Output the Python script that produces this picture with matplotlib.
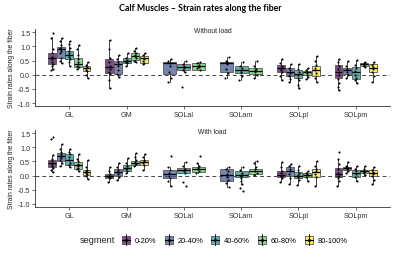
import numpy as np
import matplotlib
matplotlib.use("Agg")
import matplotlib.pyplot as plt
from matplotlib.patches import Rectangle, Patch
from matplotlib.lines import Line2D
from matplotlib.legend_handler import HandlerBase
from matplotlib.colors import to_rgba

plt.rcParams['font.family'] = ['Liberation Sans', 'DejaVu Sans']

muscles = ['GL', 'GM', 'SOLal', 'SOLam', 'SOLpl', 'SOLpm']
segments = ['0-20%', '20-40%', '40-60%', '60-80%', '80-100%']
colors = ['#440154', '#3B528B', '#21908C', '#5DC863', '#FDE725']

# box stats per segment: (low whisker, q1, median, q3, high whisker), None = no data
noload_stats = {
    'GL':    [(0.20, 0.38, 0.58, 0.76, 1.33), (0.40, 0.60, 0.89, 0.98, 1.30), (0.32, 0.56, 0.71, 0.83, 1.19),
              (0.20, 0.26, 0.38, 0.60, 1.06), (-0.13, 0.14, 0.23, 0.32, 0.44)],
    'GM':    [(-0.48, 0.05, 0.26, 0.54, 1.24), (-0.07, 0.02, 0.36, 0.48, 0.68), (0.32, 0.40, 0.50, 0.58, 0.76),
              (0.44, 0.52, 0.67, 0.77, 0.95), (0.36, 0.42, 0.58, 0.65, 0.76)],
    'SOLal': [None, (-0.25, 0.01, 0.40, 0.46, 0.55), (0.08, 0.16, 0.27, 0.36, 0.47),
              (0.16, 0.17, 0.29, 0.40, 0.46), None],
    'SOLam': [None, (-0.11, 0.10, 0.40, 0.46, 0.64), (-0.19, 0.06, 0.17, 0.29, 0.43),
              (-0.10, 0.03, 0.14, 0.23, 0.48), None],
    'SOLpl': [(-0.20, 0.10, 0.22, 0.34, 0.55), (-0.27, -0.06, 0.08, 0.22, 0.37), (-0.48, -0.13, 0.04, 0.16, 0.37),
              (-0.15, -0.01, 0.08, 0.14, 0.22), (-0.27, -0.04, 0.17, 0.29, 0.67)],
    'SOLpm': [(-0.53, -0.13, 0.10, 0.34, 0.57), (-0.10, 0.04, 0.15, 0.23, 0.48), (-0.30, -0.15, 0.10, 0.28, 0.53),
              (0.27, 0.31, 0.36, 0.41, 0.45), (-0.27, 0.10, 0.24, 0.37, 0.43)],
}
load_stats = {
    'GL':    [(0.13, 0.29, 0.43, 0.57, 0.73), (0.33, 0.52, 0.69, 0.79, 1.12), (0.29, 0.37, 0.57, 0.76, 0.93),
              (0.17, 0.25, 0.39, 0.48, 0.75), (-0.11, 0.04, 0.13, 0.21, 0.57)],
    'GM':    [(-0.23, -0.07, 0.00, 0.07, 0.31), (-0.17, -0.02, 0.13, 0.24, 0.43), (0.10, 0.17, 0.27, 0.37, 0.61),
              (0.33, 0.39, 0.46, 0.52, 0.79), (0.21, 0.37, 0.48, 0.57, 0.76)],
    'SOLal': [None, (-0.35, -0.08, 0.06, 0.20, 0.29), (0.08, 0.08, 0.20, 0.27, 0.47),
              (0.08, 0.12, 0.24, 0.32, 0.44), None],
    'SOLam': [None, (-0.39, -0.18, 0.04, 0.24, 0.29), (-0.30, -0.06, 0.04, 0.15, 0.32),
              (0.04, 0.06, 0.15, 0.24, 0.53), None],
    'SOLpl': [(-0.24, -0.06, 0.04, 0.18, 0.47), (-0.29, -0.02, 0.15, 0.32, 0.41), (-0.32, -0.09, 0.00, 0.12, 0.35),
              (-0.20, -0.04, 0.04, 0.08, 0.18), (-0.35, -0.04, 0.12, 0.24, 0.51)],
    'SOLpm': [(-0.35, -0.06, 0.06, 0.27, 0.59), (0.08, 0.20, 0.27, 0.32, 0.47), (-0.20, -0.06, 0.08, 0.20, 0.35),
              (0.04, 0.08, 0.15, 0.20, 0.35), (-0.29, 0.00, 0.09, 0.20, 0.32)],
}

# individual subjects
noload_pts = {
    'GL':    [[1.47, 1.3, 0.9, 0.75, 0.62, 0.55, 0.45, 0.38, 0.3, 0.2, 0.15],
              [1.3, 1.2, 1.05, 0.95, 0.9, 0.85, 0.75, 0.6, 0.5, 0.4],
              [1.19, 1.1, 0.95, 0.85, 0.78, 0.7, 0.62, 0.55, 0.45, 0.32],
              [1.06, 0.9, 0.7, 0.55, 0.45, 0.38, 0.32, 0.27, 0.2],
              [0.44, 0.35, 0.28, 0.22, 0.18, 0.12, 0.0, -0.13]],
    'GM':    [[1.22, 0.9, 0.6, 0.45, 0.3, 0.2, 0.1, 0.02, -0.2, -0.48],
              [0.68, 0.55, 0.45, 0.38, 0.3, 0.15, 0.02, -0.07],
              [0.76, 0.6, 0.52, 0.48, 0.44, 0.4, 0.32],
              [0.95, 0.85, 0.77, 0.7, 0.65, 0.58, 0.5, 0.44],
              [0.76, 0.68, 0.6, 0.55, 0.5, 0.42, 0.36]],
    'SOLal': [[], [0.55, 0.48, 0.42, 0.3, 0.1, -0.1, -0.25],
              [0.47, 0.38, 0.3, 0.25, 0.18, 0.1, -0.45],
              [0.46, 0.4, 0.33, 0.28, 0.22, 0.17], []],
    'SOLam': [[], [0.64, 0.5, 0.45, 0.38, 0.2, 0.05, -0.11],
              [0.43, 0.3, 0.22, 0.15, 0.08, -0.05, -0.19],
              [0.48, 0.3, 0.2, 0.15, 0.08, 0.0, -0.1], []],
    'SOLpl': [[0.55, 0.4, 0.32, 0.25, 0.18, 0.1, -0.05, -0.2],
              [0.37, 0.25, 0.15, 0.05, -0.05, -0.15, -0.27],
              [0.37, 0.2, 0.1, 0.0, -0.1, -0.2, -0.35, -0.48],
              [0.22, 0.15, 0.1, 0.05, 0.0, -0.08, -0.15],
              [0.67, 0.5, 0.35, 0.25, 0.15, 0.05, -0.1, -0.27]],
    'SOLpm': [[0.57, 0.45, 0.3, 0.2, 0.1, 0.0, -0.15, -0.3, -0.45, -0.53],
              [0.48, 0.3, 0.2, 0.15, 0.1, 0.0, -0.1],
              [0.53, 0.35, 0.25, 0.12, 0.0, -0.1, -0.2, -0.3],
              [0.45, 0.4, 0.37, 0.34, 0.3, 0.27],
              [0.43, 0.35, 0.28, 0.2, 0.1, -0.05, -0.27]],
}
load_pts = {
    'GL':    [[1.35, 1.3, 0.73, 0.6, 0.5, 0.42, 0.35, 0.28, 0.2, 0.13],
              [1.12, 0.95, 0.85, 0.75, 0.7, 0.62, 0.55, 0.45, 0.33],
              [0.93, 0.85, 0.75, 0.65, 0.55, 0.45, 0.38, 0.29],
              [0.75, 0.6, 0.5, 0.42, 0.35, 0.28, 0.22, 0.17],
              [0.57, 0.3, 0.2, 0.15, 0.1, 0.05, 0.0, -0.11]],
    'GM':    [[0.31, 0.15, 0.05, 0.0, -0.05, -0.1, -0.23],
              [0.43, 0.3, 0.2, 0.12, 0.05, -0.05, -0.17],
              [0.61, 0.45, 0.35, 0.28, 0.22, 0.15, 0.1],
              [0.79, 0.65, 0.55, 0.48, 0.44, 0.4, 0.33],
              [0.76, 0.65, 0.55, 0.5, 0.45, 0.38, 0.21]],
    'SOLal': [[], [0.7, 0.29, 0.2, 0.1, 0.0, -0.1, -0.2, -0.35],
              [0.47, 0.35, 0.25, 0.2, 0.15, 0.08, -0.24, -0.35],
              [0.7, 0.44, 0.35, 0.28, 0.22, 0.15, 0.08], []],
    'SOLam': [[], [0.29, 0.22, 0.15, 0.05, -0.05, -0.15, -0.25, -0.39],
              [0.32, 0.2, 0.1, 0.04, -0.02, -0.1, -0.2, -0.3, -0.43, -0.53],
              [0.53, 0.45, 0.3, 0.22, 0.15, 0.1, 0.04], []],
    'SOLpl': [[0.47, 0.3, 0.15, 0.08, 0.0, -0.08, -0.24],
              [0.41, 0.35, 0.25, 0.15, 0.05, -0.1, -0.29],
              [0.35, 0.2, 0.1, 0.02, -0.05, -0.15, -0.32],
              [0.18, 0.1, 0.05, 0.02, -0.05, -0.2],
              [0.51, 0.35, 0.25, 0.15, 0.05, -0.05, -0.35]],
    'SOLpm': [[0.82, 0.59, 0.4, 0.25, 0.1, 0.0, -0.1, -0.2, -0.35],
              [0.47, 0.35, 0.3, 0.27, 0.22, 0.15, 0.08],
              [0.35, 0.25, 0.15, 0.05, -0.05, -0.2],
              [0.35, 0.22, 0.18, 0.12, 0.08, 0.04],
              [0.32, 0.2, 0.12, 0.05, 0.0, -0.15, -0.29]],
}

yticks = [-1.0, -0.5, 0.0, 0.5, 1.0, 1.5]


def draw_panel(ax, stats, pts, label):
    for i, m in enumerate(muscles):
        present = [k for k in range(5) if stats[m][k] is not None]
        n = len(present)
        slot = 0.75 / n
        for j, k in enumerate(present):
            x = i - 0.375 + slot * (j + 0.5)
            lo, q1, med, q3, hi = stats[m][k]
            ax.bxp([dict(whislo=lo, q1=q1, med=med, q3=q3, whishi=hi, fliers=[])],
                   positions=[x], widths=slot * 0.92, patch_artist=True,
                   showcaps=False, manage_ticks=False,
                   boxprops=dict(facecolor=to_rgba(colors[k], 0.7), edgecolor='#555555', lw=0.6),
                   whiskerprops=dict(color='#222222', lw=0.6),
                   medianprops=dict(color='black', lw=0.9))
            p = pts[m][k]
            if p:
                off = np.linspace(-0.12, 0.12, len(p)) * slot
                ax.scatter(x + off[::-1] * np.resize([1, -1], len(p)), p, s=2.3, color='black',
                           zorder=5, linewidths=0)
    ax.axhline(0, color='#444444', lw=0.7, ls=(0, (4, 3)), zorder=1)
    ax.set_xlim(-0.6, 5.6)
    ax.set_ylim(-1.1, 1.6)
    ax.set_xticks(range(6))
    ax.set_xticklabels(muscles)
    ax.set_yticks(yticks)
    ax.set_yticklabels([f"{v:.1f}" for v in yticks])
    ax.tick_params(labelsize=5.2, length=2, width=0.5, colors='#333333', pad=1.5)
    for s in ['top', 'right']:
        ax.spines[s].set_visible(False)
    for s in ['left', 'bottom']:
        ax.spines[s].set_linewidth(0.6)
        ax.spines[s].set_color('#333333')
    ax.set_ylabel('Strain rates along the fiber', fontsize=4.9, color='#222222', labelpad=2)
    ax.text(0.5, 0.985, label, transform=ax.transAxes, ha='center', va='center',
            fontsize=4.9, color='#222222')


class BoxKey(HandlerBase):
    def create_artists(self, legend, orig_handle, xdescent, ydescent, width, height, fontsize, trans):
        cx = -xdescent + width / 2
        cy = -ydescent + height / 2
        w = width * 0.8
        h = height * 1.0
        r = Rectangle((cx - w / 2, cy - h / 2), w, h, facecolor=orig_handle.get_facecolor(),
                      edgecolor='#555555', lw=0.6, transform=trans)
        vl = Line2D([cx, cx], [cy - h * 0.7, cy + h * 0.7], color='black', lw=0.6, transform=trans)
        hl = Line2D([cx - w / 2, cx + w / 2], [cy, cy], color='black', lw=0.8, transform=trans)
        dot = Line2D([cx], [cy], marker='o', ms=1.2, color='black', lw=0, transform=trans)
        return [r, vl, hl, dot]


fig = plt.figure(figsize=(4, 2.55), dpi=100)
ax1 = fig.add_axes([0.0875, 0.581, 0.8875, 0.300])
ax2 = fig.add_axes([0.0875, 0.185, 0.8875, 0.300])
draw_panel(ax1, noload_stats, noload_pts, 'Without load')
draw_panel(ax2, load_stats, load_pts, 'With load')

fig.text(0.5, 0.968, 'Calf Muscles \u2013 Strain rates along the fiber', ha='center', va='center',
         fontsize=6.3, fontweight='bold', family=['Lato', 'DejaVu Sans'])

handles = [Patch(facecolor=to_rgba(c, 0.7)) for c in colors]
fig.legend(handles, segments, handler_map={Patch: BoxKey()}, loc='center left',
           bbox_to_anchor=(0.29, 0.055), ncol=5, frameon=False, fontsize=5.4,
           handlelength=1.3, handleheight=1.3, handletextpad=0.5, columnspacing=1.0,
           borderpad=0.2)
fig.text(0.2, 0.055, 'segment', ha='left', va='center', fontsize=6.6, color='#222222')

fig.savefig('out.png', dpi=100)
